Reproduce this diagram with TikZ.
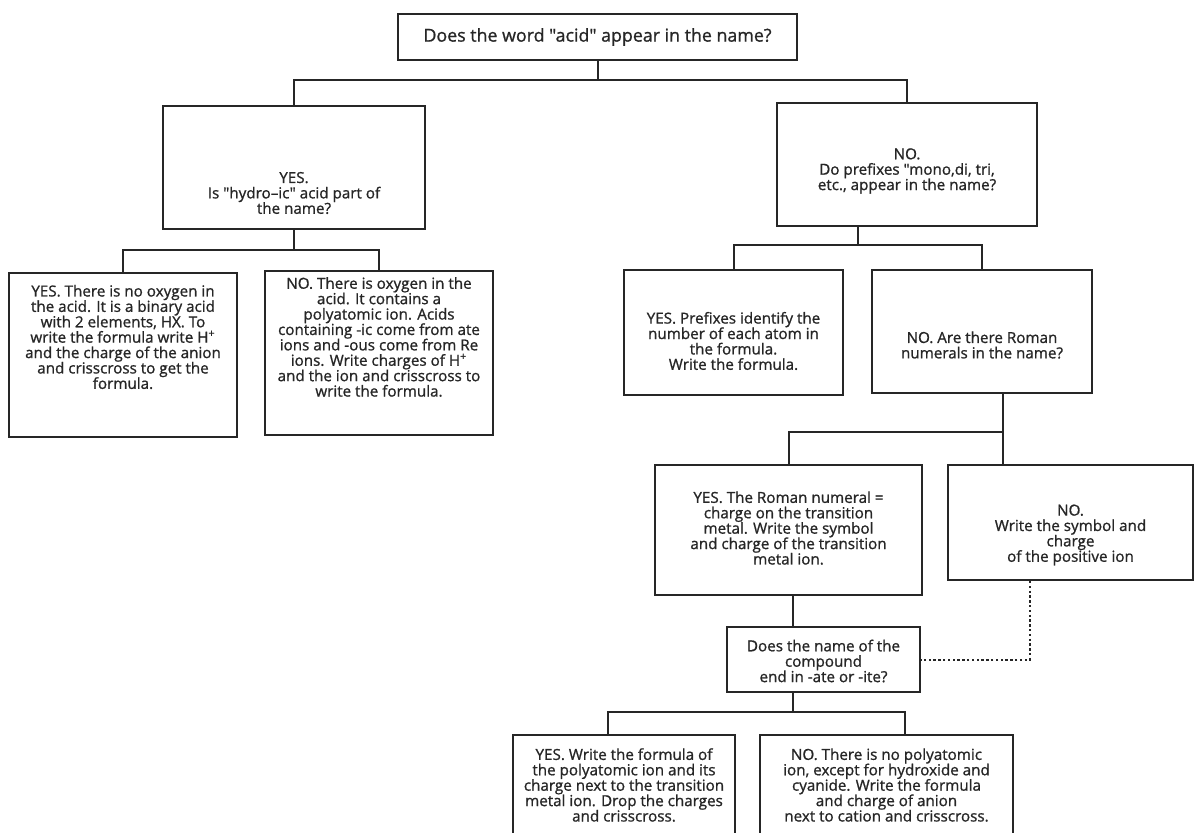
\documentclass[tikz,border=0pt]{standalone}
\usepackage{fontspec}
\newfontfamily\scanfont{Open Sans}[FakeBold=1]
\usetikzlibrary{positioning,calc}
\definecolor{Ink}{HTML}{262626}
\newcommand\tightlines{\lineskiplimit=-10pt\relax}
\tikzset{
  qbox/.style={draw=Ink, line width=1pt, fill=white, inner sep=0pt},
  qtext/.style={align=center, text=Ink, inner sep=0pt, font=\scanfont\fontsize{7.6}{7.7}\selectfont\tightlines},
  link/.style={draw=Ink, line width=1pt},
  dotlink/.style={draw=Ink, line width=1pt, dash pattern=on 1.2pt off 1.2pt}
}
\begin{document}
\begin{tikzpicture}[x=0.5pt, y=-0.5pt]
\useasboundingbox (0,0) rectangle (1197,833);
\clip (0,0) rectangle (1197,833);
% first question
\node[qbox, minimum width=199.5pt, minimum height=23pt] (acid) at (597.5,37) {};
\node[qtext, font=\scanfont\fontsize{8.9}{9}\selectfont] (acid-t) at (acid) {Does the word "acid" appear in the name?};
\node[qbox, minimum width=131pt, minimum height=61.5pt] (hydro) at (294,167.5) {};
\node[qtext] (hydro-t) at (294,193) {YES.\\Is "hydro–ic" acid part of\\the name?};
\node[qbox, minimum width=130pt, minimum height=61.5pt] (prefix) at (907,164.5) {};
\node[qtext] (prefix-t) at (907,171) {NO.\\Do prefixes "mono,di, tri,\\etc., appear in the name?};
% acids
\node[qbox, minimum width=114pt, minimum height=82pt] (binary) at (123,355) {};
\node[qtext] (binary-t) at (123,337) {YES. There is no oxygen in\\the acid. It is a binary acid\\with 2 elements, HX. To\\write the formula write H\textsuperscript{+}\\and the charge of the anion\\and crisscross to get the\\formula.};
\node[qbox, minimum width=114pt, minimum height=82pt] (oxyacid) at (379,353) {};
\node[qtext] (oxyacid-t) at (379,337) {NO. There is oxygen in the\\acid. It contains a\\polyatomic ion. Acids\\containing -ic come from ate\\ions and -ous come from Re\\ions. Write charges of H\textsuperscript{+}\\and the ion and crisscross to\\write the formula.};
% molecular / ionic
\node[qbox, minimum width=109.5pt, minimum height=62.5pt] (molec) at (733.5,332.5) {};
\node[qtext] (molec-t) at (733.5,341) {YES. Prefixes identify the\\number of each atom in\\the formula.\\Write the formula.};
\node[qbox, minimum width=110pt, minimum height=61.5pt] (roman) at (982,331.5) {};
\node[qtext] (roman-t) at (982,345) {NO. Are there Roman\\numerals in the name?};
\node[qbox, minimum width=133.5pt, minimum height=65pt] (metal) at (788.5,530) {};
\node[qtext] (metal-t) at (788.5,528) {YES. The Roman numeral =\\charge on the transition\\metal. Write the symbol\\and charge of the transition\\metal ion.};
\node[qbox, minimum width=122.5pt, minimum height=57.5pt] (posion) at (1070.5,522.5) {};
\node[qtext] (posion-t) at (1070.5,535) {NO.\\Write the symbol and\\charge\\of the positive ion};
\node[qbox, minimum width=96.5pt, minimum height=32.5pt] (ending) at (823.5,659.5) {};
\node[qtext] (ending-t) at (823.5,661) {Does the name of the\\compound\\end in -ate or -ite?};
\node[qbox, minimum width=111pt, minimum height=57.5pt] (polyion) at (624,792.5) {};
\node[qtext] (polyion-t) at (624,785) {YES. Write the formula of\\the polyatomic ion and its\\charge next to the transition\\metal ion. Drop the charges\\and crisscross.};
\node[qbox, minimum width=126.5pt, minimum height=57.5pt] (nopoly) at (886.5,792.5) {};
\node[qtext] (nopoly-t) at (886.5,785) {NO. There is no polyatomic\\ion, except for hydroxide and\\cyanide. Write the formula\\and charge of anion\\next to cation and crisscross.};
% forks
\coordinate (fork1) at ($(acid.south)+(0,19)$);
\coordinate (fork2) at ($(hydro.south)+(0,20)$);
\coordinate (fork3) at (858,245);
\coordinate (fork4) at (1003,432);
\coordinate (stemq) at (793,0);
\coordinate (dotx) at (1030,0);
\coordinate (fork5) at (793,712);
\coordinate (legI) at (608,712);
\coordinate (legJ) at (905,712);
\draw[link] (acid.south) -- (fork1);
\draw[link] (hydro.north) |- (fork1) -| (prefix.north);
\draw[link] (hydro.south) -- (fork2);
\draw[link] (binary.north) |- (fork2) -| (oxyacid.north);
\draw[link] (prefix.south -| fork3) -- (fork3);
\draw[link] (molec.north) |- (fork3) -| (roman.north);
\draw[link] (roman.south -| fork4) -- (posion.north -| fork4);
\draw[link] (fork4) -| (metal.north);
\draw[link] (metal.south -| stemq) -- (ending.north -| stemq);
\draw[dotlink] (posion.south -| dotx) |- (ending.east);
\draw[link] (ending.south -| fork5) -- (fork5);
\draw[link] (polyion.north -| legI) |- (fork5) -| (nopoly.north -| legJ);
\end{tikzpicture}
\end{document}
